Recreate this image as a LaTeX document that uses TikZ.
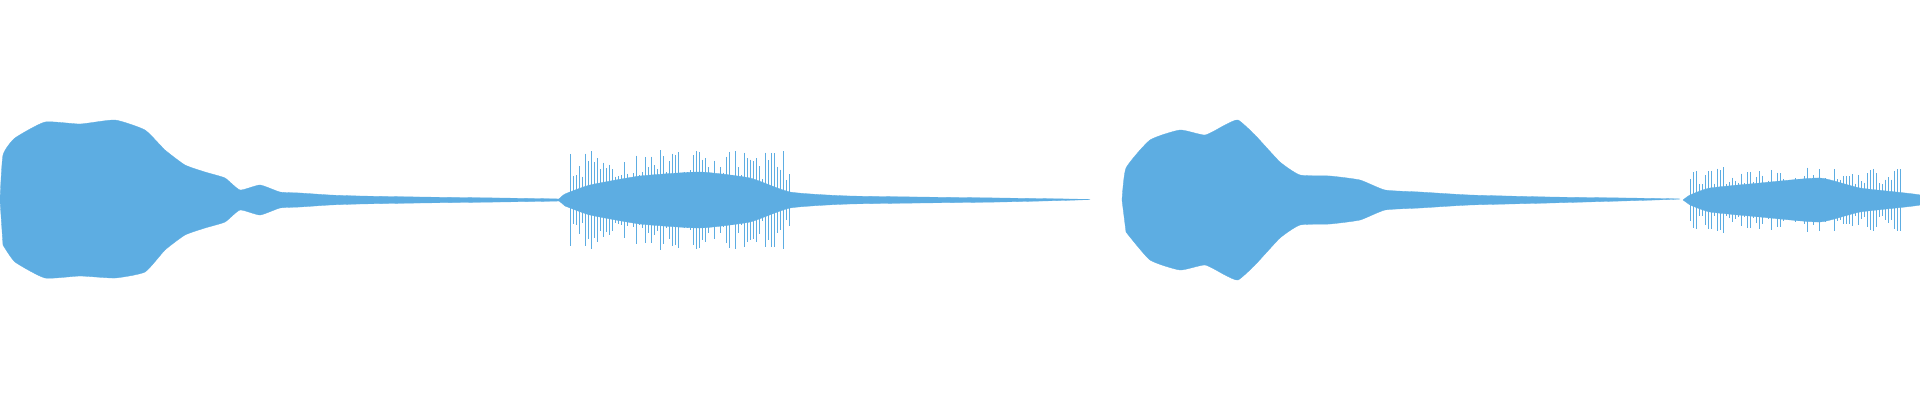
\documentclass[tikz,border=0pt]{standalone}
\definecolor{wavecol}{HTML}{5DADE2}
\tikzset{
  wave/.style={fill=wavecol, draw=wavecol, line width=0.3pt},
  spike/.style={draw=wavecol, line width=0.5pt}
}
\newcommand{\envelope}[1]{%
  \fill[wave] plot[smooth, tension=0.3] coordinates {#1} -- cycle;}
\begin{document}
\begin{tikzpicture}[x=1pt, y=1pt]
  \useasboundingbox (0,-200) rectangle (1920,200);
  % first burst
  \envelope{(0,0) (3,45) (15,62) (45,78) (80,76) (115,80) (145,70) (165,50) (185,35) (205,28) (225,22) (240,10)
    (260,15) (280,8) (300,7) (330,5) (360,4) (420,3) (500,2) (560,1)
    (560,-1) (500,-2) (420,-3) (360,-4) (330,-5) (300,-7) (280,-8) (260,-15) (240,-10) (225,-22)
    (205,-28) (185,-35) (165,-50) (145,-72) (115,-78) (80,-76) (45,-78) (15,-62) (3,-45)}
  % second burst
  \envelope{(558,0) (565,6) (590,15) (640,24) (700,28) (750,22) (790,8) (850,4) (1000,2) (1090,0.5)
    (1000,-2) (850,-4) (790,-8) (750,-22) (700,-28) (640,-24) (590,-15) (565,-6)}
  \pgfmathsetseed{7}
  \foreach \xpos in {570,573,...,790} {
    \pgfmathsetmacro\h{20+30*rnd}
    \draw[spike] (\xpos,\h) -- (\xpos,-\h);
  }
  % third burst
  \envelope{(1122,0) (1126,32) (1150,60) (1180,70) (1205,65) (1225,75) (1238,80) (1255,65) (1280,38) (1300,25)
    (1330,24) (1360,20) (1385,10) (1420,8) (1470,5) (1550,3) (1680,1)
    (1550,-3) (1470,-5) (1420,-8) (1385,-10) (1360,-20) (1330,-24) (1300,-25) (1280,-38)
    (1255,-65) (1238,-80) (1225,-75) (1205,-65) (1180,-70) (1150,-60) (1126,-32)}
  % fourth burst
  \envelope{(1683,0) (1690,5) (1710,12) (1760,17) (1820,22) (1860,12) (1920,5)
    (1920,-5) (1860,-12) (1820,-22) (1760,-17) (1710,-12) (1690,-5)}
  \foreach \xpos in {1690,1693,...,1900} {
    \pgfmathsetmacro\h{15+18*rnd}
    \draw[spike] (\xpos,\h) -- (\xpos,-\h);
  }
\end{tikzpicture}
\end{document}
